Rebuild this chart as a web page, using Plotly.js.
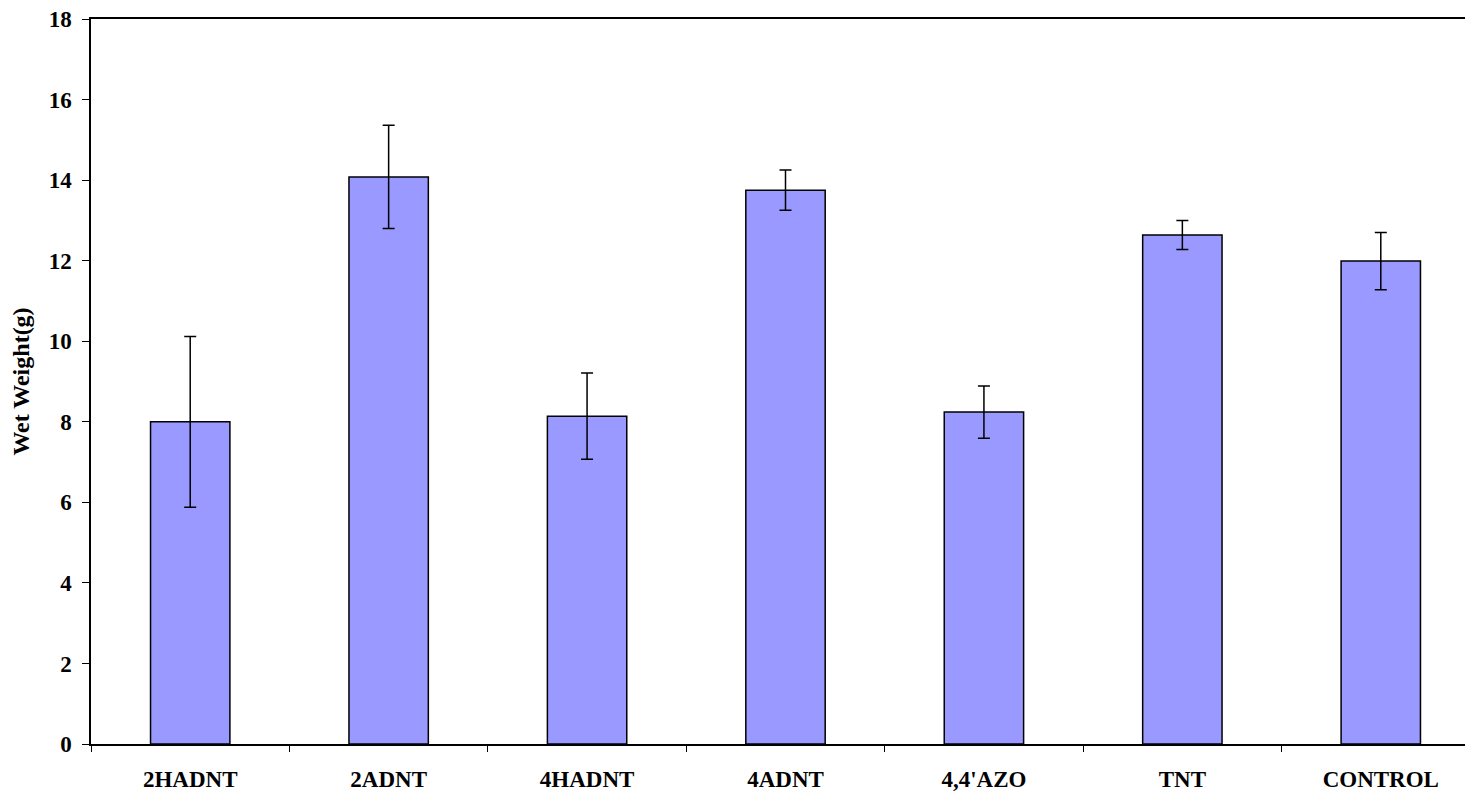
<!DOCTYPE html>
<html>
<head>
<meta charset="utf-8">
<script src="https://cdn.plot.ly/plotly-3.0.1.min.js"></script>
<style>
html,body{margin:0;padding:0;overflow:hidden;background:#fff;}
#chart{width:1500px;height:793px;}
</style>
</head>
<body>
<div id="chart"></div>
<script>
const categories = ["2HADNT", "2ADNT", "4HADNT", "4ADNT", "4,4'AZO", "TNT", "CONTROL"];
const wetWeight = [8.0, 14.08, 8.14, 13.75, 8.24, 12.64, 11.99];
const errorSD = [2.12, 1.28, 1.07, 0.5, 0.65, 0.36, 0.71];
const yTicks = [0, 2, 4, 6, 8, 10, 12, 14, 16, 18];

const fam = "Liberation Serif, Times New Roman, serif";

const trace = {
  type: "bar",
  x: categories,
  y: wetWeight,
  width: 0.4,
  marker: {color: "#9999FF", line: {color: "#000", width: 1.5}},
  error_y: {type: "data", array: errorSD, visible: true, color: "#000", thickness: 1.5, width: 6},
  hoverinfo: "x+y"
};

const layout = {
  width: 1500,
  height: 793,
  margin: {l: 91, r: 20, t: 19, b: 49},
  paper_bgcolor: "#fff",
  plot_bgcolor: "#fff",
  showlegend: false,
  xaxis: {
    type: "category",
    range: [-0.5, 6.5],
    showline: true, linecolor: "#000", linewidth: 1.5,
    mirror: true,
    ticks: "outside", tickson: "boundaries", ticklen: 6, tickcolor: "#000", tickwidth: 1,
    showgrid: false, zeroline: false,
    tickfont: {family: fam, color: "#000", size: 23, weight: "bold"},
    ticklabelstandoff: 14
  },
  yaxis: {
    range: [0, 18],
    tickvals: yTicks,
    ticktext: yTicks.map(String),
    showline: true, linecolor: "#000", linewidth: 1.5,
    ticks: "outside", ticklen: 7, tickcolor: "#000", tickwidth: 1,
    showgrid: false, zeroline: false,
    tickfont: {family: fam, color: "#000", size: 23, weight: "bold"},
    ticklabelstandoff: 6,
    title: {text: "Wet Weight(g)", font: {family: fam, color: "#000", size: 24, weight: "bold"}, standoff: 12}
  }
};

Plotly.newPlot("chart", [trace], layout, {displayModeBar: false});
</script>
</body>
</html>
